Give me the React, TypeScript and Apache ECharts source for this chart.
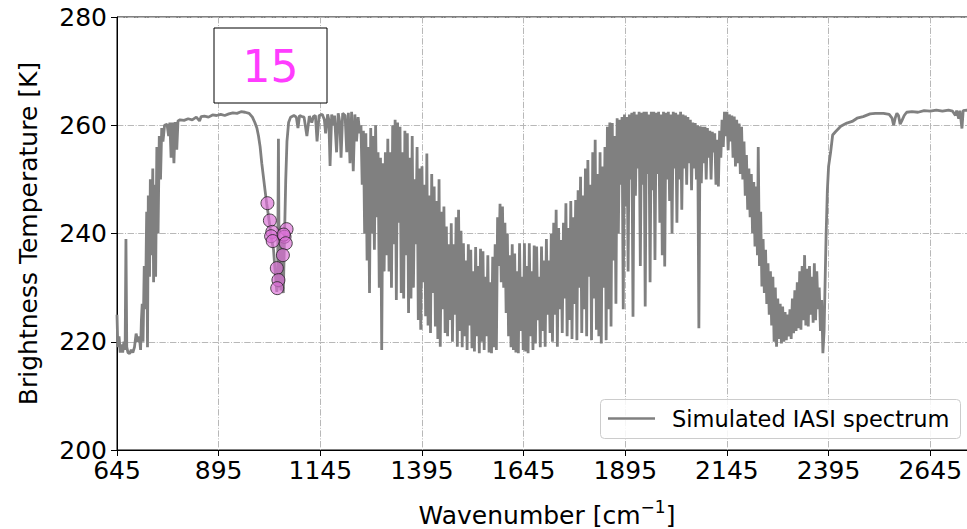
import React, { useEffect, useRef } from "react";
import * as echarts from "echarts";

// ---------- data (wavenumber [cm-1], brightness temperature [K]) ----------
const co2EdgeBand: [number, number][] = [
  [645, 225], [647, 219], [650, 221], [653, 218], [656, 219.5], [659, 218], [662, 220], [665, 218.5],
  [667, 239], [669, 219], [672, 218], [676, 217.8], [680, 218.5], [684, 218], [688, 219], [692, 221.5],
  [696, 220], [700, 221], [703, 218.5], [705, 224], [707, 227], [709, 220], [712, 234], [715, 226],
  [718, 244], [720, 219], [722, 247], [725, 232], [727, 250], [730, 236], [733, 252], [735, 231],
  [738, 249], [740, 232], [743, 256], [746, 240], [749, 258], [752, 250], [755, 259.5], [758, 257], [762, 260],
];

const longwaveWindow: [number, number][] = [
  [768, 260.2], [772, 258], [775, 260.5], [778, 254], [781, 260.5], [785, 253], [788, 260.6], [792, 255.5],
  [795, 260.8], [800, 261], [810, 260.9], [820, 261.2], [830, 261], [840, 261.5], [848, 260.8], [852, 261.6],
  [860, 261.7], [870, 261.5], [880, 261.9], [890, 261.8], [900, 262], [910, 261.8], [920, 262.1], [930, 262.3],
  [940, 262.2], [950, 262.5], [960, 262.4], [970, 262.2], [978, 261.5],
];

const ozoneBand: [number, number][] = [
  [984, 260.5], [989, 259.5], [993, 258], [997, 256], [1001, 253], [1005, 250.5], [1009, 248], [1013, 245.6],
  [1017, 243.5], [1021, 241.3], [1025, 239], [1030, 237], [1034, 232.8], [1036, 231], [1038, 229.2], [1040, 230.5],
  [1042, 257.5], [1044, 230], [1046, 234], [1048, 229.5], [1050, 239], [1052, 231], [1054, 229], [1056, 236],
  [1058, 243], [1060, 250], [1063, 257], [1067, 260.5], [1072, 261.5],
];

const midWindow: [number, number][] = [
  [1080, 261.8], [1086, 261.5], [1090, 259.5], [1094, 261.8], [1100, 261.6], [1105, 261.5], [1112, 258], [1118, 261.7],
  [1124, 260.5], [1128, 261.6], [1133, 261.8], [1137, 257], [1142, 261.8], [1150, 262], [1155, 261], [1158, 258.5],
  [1163, 262], [1166, 261], [1169, 252.5], [1173, 262], [1177, 260], [1180, 261.8], [1185, 255], [1189, 262.2],
  [1193, 260.5], [1196, 254], [1200, 262.2], [1206, 261.8], [1210, 255], [1214, 262.3], [1218, 253], [1222, 262.5],
  [1226, 251.5], [1230, 262], [1234, 257], [1238, 261.5], [1242, 258.5],
];

const waterVapourBand: [number, number][] = [
  [1245, 260], [1248, 249], [1251, 259], [1254, 240], [1257, 258.5], [1260, 235], [1263, 256], [1266, 229],
  [1269, 259.5], [1272, 240], [1275, 258], [1278, 237], [1281, 260], [1284, 243], [1287, 255], [1290, 230],
  [1293, 254], [1296, 218.5], [1299, 253], [1302, 233], [1305, 255], [1308, 236], [1311, 257.5], [1314, 233],
  [1317, 255], [1320, 230], [1323, 260], [1326, 238], [1329, 261], [1332, 227.7], [1335, 260.5], [1338, 242],
  [1341, 259.7], [1344, 229], [1347, 255], [1350, 228], [1353, 259], [1356, 236], [1359, 258.5], [1362, 225.3],
  [1365, 254], [1368, 228], [1371, 258], [1374, 230], [1377, 250], [1380, 238], [1383, 256], [1386, 224],
  [1389, 252], [1392, 222.2], [1395, 252.4], [1398, 231], [1401, 249], [1404, 224.7], [1407, 254.8], [1410, 223],
  [1413, 247], [1416, 221.6], [1419, 251], [1422, 229], [1425, 248.7], [1428, 222.8], [1431, 246], [1434, 220.5],
  [1437, 250], [1440, 219.1], [1443, 244], [1446, 226], [1449, 245], [1452, 221.6], [1455, 241.3], [1458, 221],
  [1461, 238], [1464, 224], [1467, 241.9], [1470, 220], [1473, 238], [1476, 225], [1479, 243], [1482, 219.1],
  [1485, 244.4], [1488, 222], [1491, 240.5], [1494, 219], [1497, 238.2], [1500, 221], [1503, 235], [1506, 218.5],
  [1509, 238], [1512, 223], [1515, 237], [1518, 218.8], [1521, 233], [1524, 218.2], [1527, 237.5], [1530, 221],
  [1533, 234], [1536, 217.9], [1539, 237.2], [1542, 220], [1545, 236.7], [1548, 218.5], [1551, 232], [1554, 221],
  [1557, 236], [1560, 218], [1563, 231], [1566, 217.9], [1569, 235.7], [1572, 219], [1575, 238], [1578, 218.5],
  [1581, 243], [1584, 234], [1587, 245.5], [1590, 231], [1593, 245], [1596, 230], [1599, 242], [1602, 225.3],
  [1605, 240], [1608, 221], [1611, 236], [1614, 219], [1617, 238], [1620, 218.5], [1623, 236.3], [1626, 218],
  [1629, 233], [1632, 217.9], [1635, 238.2], [1638, 222], [1641, 232], [1644, 218.5], [1647, 238.2], [1650, 218.2],
  [1653, 234], [1656, 217.9], [1659, 238.2], [1662, 221], [1665, 233], [1668, 218.5], [1671, 237.8], [1674, 219.7],
  [1677, 237.6], [1680, 224], [1683, 232], [1686, 219], [1689, 237.6], [1692, 222], [1695, 235], [1698, 219.1],
  [1701, 239], [1704, 225], [1707, 235], [1710, 221.6], [1713, 240], [1716, 220], [1719, 242], [1722, 225],
  [1725, 244.4], [1728, 219.1], [1731, 241], [1734, 226], [1737, 238.8], [1740, 221.6], [1743, 242], [1746, 228],
  [1749, 245.6], [1752, 221], [1755, 241], [1758, 224], [1761, 246], [1764, 220.5], [1767, 243], [1770, 227],
  [1773, 246.2], [1776, 220.3], [1779, 248], [1782, 230], [1785, 250.5], [1788, 221.6], [1791, 247], [1794, 226],
  [1797, 252], [1800, 221], [1803, 253.6], [1806, 232], [1809, 249], [1812, 220.3], [1815, 255], [1818, 228],
  [1821, 257.3], [1824, 222.2], [1827, 251], [1830, 221], [1833, 255], [1836, 219.7], [1839, 252.4], [1842, 230],
  [1845, 256], [1848, 220.3], [1851, 259.7], [1854, 226], [1857, 260.5], [1860, 222.8], [1863, 260.4], [1866, 235],
  [1869, 258],
];

const shortwaveBand: [number, number][] = [
  [1872, 227], [1875, 261.3], [1878, 240], [1881, 261], [1884, 249], [1887, 261.5], [1890, 226], [1893, 262],
  [1896, 245], [1899, 261.5], [1902, 233], [1905, 262], [1908, 250], [1911, 262.3], [1914, 224.6], [1917, 262.5],
  [1920, 247], [1923, 262], [1926, 252], [1929, 262.5], [1932, 234], [1935, 262.3], [1938, 249], [1941, 262.5],
  [1944, 226.5], [1947, 262.5], [1950, 251], [1953, 262], [1956, 231], [1959, 262.5], [1962, 248], [1965, 262.5],
  [1968, 235.1], [1971, 262.3], [1974, 251], [1977, 262.5], [1980, 242], [1983, 262], [1986, 236], [1989, 262.5],
  [1992, 233.9], [1995, 262.3], [1998, 250], [2001, 262.5], [2004, 246], [2007, 262], [2010, 240], [2013, 262.5],
  [2016, 252], [2019, 262.3], [2022, 242], [2025, 262], [2028, 250], [2031, 262.5], [2034, 244.4], [2037, 262],
  [2040, 252], [2043, 261.8], [2046, 249], [2049, 261.5], [2052, 253], [2055, 261], [2058, 248], [2061, 260.5],
  [2064, 252], [2067, 260.4], [2070, 250], [2073, 260], [2076, 222.5], [2079, 259.8], [2082, 249.3], [2085, 259.7],
  [2088, 253], [2091, 259.7], [2094, 250], [2097, 259.5], [2100, 254], [2103, 259], [2106, 250], [2109, 258.8],
  [2112, 255], [2115, 258.5], [2118, 249], [2121, 257.3], [2124, 248.7], [2127, 259], [2130, 254], [2133, 261],
  [2136, 256], [2139, 262.5], [2142, 258], [2145, 262.5], [2148, 255.4], [2151, 262], [2154, 257], [2157, 261.8],
  [2160, 254], [2163, 261.6], [2166, 252.4], [2169, 261], [2172, 253], [2175, 260.3], [2178, 251], [2181, 259.7],
  [2184, 250], [2187, 257], [2190, 247], [2193, 254.5], [2196, 244.4], [2199, 252], [2202, 243], [2205, 251],
  [2208, 240], [2211, 249.5], [2214, 237.6], [2217, 248.7], [2220, 236], [2222, 256], [2225, 234], [2228, 244],
  [2231, 230.2], [2234, 239], [2237, 229], [2240, 237], [2243, 227], [2246, 234.5], [2249, 225], [2252, 233],
  [2255, 223], [2258, 232], [2261, 220], [2264, 230], [2267, 219.1], [2270, 228], [2273, 220.5], [2276, 227],
  [2279, 219.7], [2282, 226.5], [2285, 220], [2288, 225.5], [2291, 220.3], [2294, 225], [2297, 221], [2300, 226],
  [2303, 220.5], [2306, 228], [2309, 221.6], [2312, 229.5], [2315, 222], [2318, 231], [2321, 222.5], [2324, 233],
  [2327, 222.2], [2330, 234], [2333, 224], [2336, 236], [2339, 223], [2342, 233.5], [2345, 222.8], [2348, 234],
  [2351, 225], [2354, 232], [2357, 223.5], [2360, 234.5], [2363, 224], [2366, 233], [2369, 226], [2372, 230],
  [2375, 222], [2378, 227.7], [2381, 217.9], [2384, 222],
];

const shortwaveWindow: [number, number][] = [
  [2387, 233], [2389, 240], [2392, 248], [2395, 252.4], [2400, 255], [2405, 258.2], [2412, 258.8], [2425, 259.8],
  [2440, 260.4], [2453, 260.7], [2465, 261.3], [2480, 261.6], [2497, 262.1], [2510, 262.2], [2530, 262.2], [2544, 262],
  [2551, 261.3], [2555, 260], [2559, 261.4], [2563, 262.2], [2567, 261.8], [2571, 260.2], [2575, 260.8], [2581, 261.8],
  [2587, 262.4], [2600, 262.5], [2615, 262.4], [2630, 262.7], [2645, 262.6], [2660, 262.8], [2675, 262.6], [2690, 262.8],
  [2700, 262.6], [2707, 261.8], [2710, 262.7], [2715, 261.2], [2718, 262.7], [2723, 259.4], [2726, 262.7], [2735, 262.8],
  [2745, 262.5], [2760, 262.8],
];

const channelObservations: [number, number][] = [
  [1015, 245.6], [1021, 242.4], [1027, 240.3], [1024, 239.5], [1028, 238.6], [1062, 240.8], [1057, 239.4],
  [1055, 239.8], [1060, 238.2], [1053, 236], [1038, 233.6], [1042, 231.4], [1039, 229.9],
];

const xStart = 645;
const xEnd = 2760;
const xStep = 250;
const yMin = 200;
const yMax = 280;
const yStep = 20;
const boxLabel = "15";
const legendLabel = "Simulated IASI spectrum";
const xTitle = "Wavenumber [cm{sup|−1}]";
const yTitle = "Brightness Temperature [K]";

const FONT = '"DejaVu Sans", "Liberation Sans", sans-serif';

export default function App() {
  const ref = useRef<HTMLDivElement>(null);

  useEffect(() => {
    document.body.style.margin = "0";
    if (!ref.current) return;
    const chart = echarts.init(ref.current, undefined, { renderer: "svg" });

    const spectrum = [
      ...co2EdgeBand,
      ...longwaveWindow,
      ...ozoneBand,
      ...midWindow,
      ...waterVapourBand,
      ...shortwaveBand,
      ...shortwaveWindow,
    ].map(([w, t]) => [w - xStart, t]);
    const obs = channelObservations.map(([w, t]) => [w - xStart, t]);

    const gridDash = [6.4, 1.6, 1, 1.6];

    chart.setOption({
      animation: false,
      backgroundColor: "#ffffff",
      grid: {
        left: 117,
        top: 17,
        right: -10,
        bottom: 79,
        containLabel: false,
        outerBoundsMode: "none",
        show: true,
        borderColor: "#000",
        borderWidth: 1,
        backgroundColor: "transparent",
      },
      xAxis: {
        type: "value",
        min: 0,
        max: xEnd - xStart,
        interval: xStep,
        name: xTitle,
        nameLocation: "middle",
        nameGap: 48,
        nameTextStyle: {
          fontFamily: FONT,
          fontSize: 25,
          color: "#000",
          lineHeight: 34,
          rich: {
            sup: { fontFamily: FONT, fontSize: 17, color: "#000", verticalAlign: "top", lineHeight: 20 },
          },
        },
        axisLine: { show: true, onZero: false, lineStyle: { color: "#000", width: 1 } },
        axisTick: { show: true, inside: false, length: 6, lineStyle: { color: "#000", width: 1 } },
        axisLabel: {
          fontFamily: FONT,
          fontSize: 25,
          color: "#000",
          margin: 8,
          showMaxLabel: false,
          formatter: (v: number) => String(v + xStart),
        },
        splitLine: { show: true, lineStyle: { color: "#b8b8b8", width: 1, type: gridDash } },
      },
      yAxis: {
        type: "value",
        min: yMin,
        max: yMax,
        interval: yStep,
        name: yTitle,
        nameLocation: "middle",
        nameGap: 76,
        nameTextStyle: { fontFamily: FONT, fontSize: 25, color: "#000" },
        axisLine: { show: true, lineStyle: { color: "#000", width: 1 } },
        axisTick: { show: true, inside: false, length: 6, lineStyle: { color: "#000", width: 1 } },
        axisLabel: { fontFamily: FONT, fontSize: 25, color: "#000", margin: 10 },
        splitLine: { show: true, lineStyle: { color: "#b8b8b8", width: 1, type: gridDash } },
      },
      series: [
        {
          name: legendLabel,
          type: "line",
          data: spectrum,
          symbol: "none",
          showSymbol: false,
          lineStyle: { color: "#808080", width: 2.8 },
          z: 2,
        },
        {
          name: "Channels",
          type: "scatter",
          data: obs,
          symbol: "circle",
          symbolSize: 13,
          itemStyle: { color: "rgba(218,112,214,0.85)", borderColor: "#222", borderWidth: 1 },
          z: 3,
        },
      ],
      graphic: [
        {
          type: "rect",
          z: 100,
          shape: { x: 214, y: 28, width: 113, height: 75 },
          style: { fill: "#ffffff", stroke: "#000", lineWidth: 1 },
        },
        {
          type: "text",
          z: 101,
          x: 270.5,
          y: 66,
          style: {
            text: boxLabel,
            fill: "#ff3cff",
            fontSize: 44,
            fontFamily: FONT,
            align: "center",
            verticalAlign: "middle",
          },
        },
        {
          type: "rect",
          z: 100,
          shape: { x: 600.5, y: 399.5, width: 360, height: 39, r: 4 },
          style: { fill: "rgba(255,255,255,0.85)", stroke: "#cccccc", lineWidth: 1 },
        },
        {
          type: "line",
          z: 101,
          shape: { x1: 608, y1: 418.5, x2: 655, y2: 418.5 },
          style: { stroke: "#808080", lineWidth: 2.5 },
        },
        {
          type: "text",
          z: 101,
          x: 672,
          y: 419,
          style: {
            text: legendLabel,
            fill: "#000",
            fontSize: 22.5,
            fontFamily: FONT,
            align: "left",
            verticalAlign: "middle",
          },
        },
      ],
    });

    return () => chart.dispose();
  }, []);

  return (
    <div
      ref={ref}
      style={{ width: 967, height: 529, position: "absolute", left: 0, top: 0, background: "#fff" }}
    />
  );
}
